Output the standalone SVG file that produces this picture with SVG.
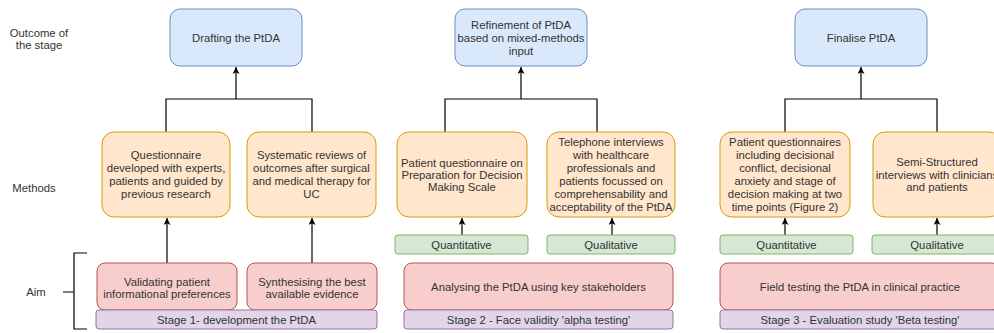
<svg xmlns="http://www.w3.org/2000/svg" width="994" height="333" viewBox="0 0 994 333">
<style>
text{font-family:"Liberation Sans",Arial,sans-serif;font-size:11.3px;fill:#333;text-anchor:middle}
.lbl{fill:#333}
.out{fill:#dae8fc;stroke:#6c8ebf;stroke-width:1}
.met{fill:#ffe6cc;stroke:#d79b00;stroke-width:1}
.grn{fill:#d5e8d4;stroke:#82b366;stroke-width:1}
.red{fill:#f8cecc;stroke:#b85450;stroke-width:1}
.pur{fill:#e1d5e7;stroke:#9673a6;stroke-width:1}
.ln{fill:none;stroke:#000;stroke-width:1.2}
</style>
<defs>
<marker id="ah" viewBox="0 0 10 10" refX="10" refY="5" markerWidth="7" markerHeight="7" markerUnits="userSpaceOnUse" orient="auto">
<path d="M0,0 L10,5 L0,10 L2.5,5 Z" fill="#000"/>
</marker>
</defs>
<g id="labels">
<text x="39" y="37">Outcome of</text>
<text x="39" y="48.5">the stage</text>
<text x="34" y="192">Methods</text>
<text x="36" y="296">Aim</text>
<path class="ln" d="M87,253 H74 V329 H87 M63,292 H74" stroke-width="1.2"/>
</g>
<g id="connectors">
<path class="ln" d="M166,132 V99 H312 V132"/>
<path class="ln" d="M236,99 V67" marker-end="url(#ah)"/>
<path class="ln" d="M167,263 V218" marker-end="url(#ah)"/>
<path class="ln" d="M312,263 V218" marker-end="url(#ah)"/>
<path class="ln" d="M445,132 V99 H597 V132"/>
<path class="ln" d="M521,99 V67" marker-end="url(#ah)"/>
<path class="ln" d="M462,235 V218" marker-end="url(#ah)"/>
<path class="ln" d="M612,235 V218" marker-end="url(#ah)"/>
<path class="ln" d="M785,132 V99 H937 V132"/>
<path class="ln" d="M861,99 V67" marker-end="url(#ah)"/>
<path class="ln" d="M785,235 V218" marker-end="url(#ah)"/>
<path class="ln" d="M937,235 V218" marker-end="url(#ah)"/>
</g>
<g id="out1"><rect class="out" x="170" y="9" width="132" height="57" rx="10"/><text x="236" y="41.5">Drafting the PtDA</text></g>
<g id="out2"><rect class="out" x="455" y="9" width="132" height="57" rx="10"/><text x="521" y="29">Refinement of PtDA</text><text x="521" y="42">based on mixed-methods</text><text x="521" y="55">input</text></g>
<g id="out3"><rect class="out" x="795" y="9" width="132" height="57" rx="10"/><text x="861" y="41.5">Finalise PtDA</text></g>
<g id="met1"><rect class="met" x="102" y="132" width="128" height="85" rx="12"/><text x="166" y="159">Questionnaire</text><text x="166" y="172">developed with experts,</text><text x="166" y="185">patients and guided by</text><text x="166" y="198">previous research</text></g>
<g id="met2"><rect class="met" x="247" y="132" width="129" height="85" rx="12"/><text x="311.5" y="159">Systematic reviews of</text><text x="311.5" y="172">outcomes after surgical</text><text x="311.5" y="185">and medical therapy for</text><text x="311.5" y="198">UC</text></g>
<g id="met3"><rect class="met" x="397" y="132" width="130" height="85" rx="12"/><text x="462" y="166.5">Patient questionnaire on</text><text x="462" y="178.8">Preparation for Decision</text><text x="462" y="191">Making Scale</text></g>
<g id="met4"><rect class="met" x="547" y="132" width="128" height="85" rx="12"/><text x="611" y="146">Telephone interviews</text><text x="611" y="159">with healthcare</text><text x="611" y="172">professionals and</text><text x="611" y="185">patients focussed on</text><text x="611" y="198">comprehensability and</text><text x="611" y="211">acceptability of the PtDA</text></g>
<g id="met5"><rect class="met" x="720" y="132" width="130" height="85" rx="12"/><text x="785" y="146">Patient questionnaires</text><text x="785" y="159">including decisional</text><text x="785" y="172">conflict, decisional</text><text x="785" y="185">anxiety and stage of</text><text x="785" y="198">decision making at two</text><text x="785" y="211">time points (Figure 2)</text></g>
<g id="met6"><rect class="met" x="873" y="132" width="128" height="85" rx="12"/><text x="937" y="166">Semi-Structured</text><text x="937" y="178.5">interviews with clinicians</text><text x="937" y="191">and patients</text></g>
<g id="grn1"><rect class="grn" x="395" y="235" width="133" height="19" rx="3"/><text x="461.5" y="248.5">Quantitative</text></g>
<g id="grn2"><rect class="grn" x="547" y="235" width="128" height="19" rx="3"/><text x="611" y="248.5">Qualitative</text></g>
<g id="grn3"><rect class="grn" x="720" y="235" width="133" height="19" rx="3"/><text x="786.5" y="248.5">Quantitative</text></g>
<g id="grn4"><rect class="grn" x="872" y="235" width="130" height="19" rx="3"/><text x="937" y="248.5">Qualitative</text></g>
<g id="aim1"><rect class="red" x="97" y="263" width="140" height="47" rx="8"/><text x="167" y="285.5">Validating patient</text><text x="167" y="297.5">informational preferences</text></g>
<g id="aim2"><rect class="red" x="247" y="263" width="130" height="47" rx="8"/><text x="312" y="285.5">Synthesising the best</text><text x="312" y="297.5">available evidence</text></g>
<g id="aim3"><rect class="red" x="404" y="263" width="269" height="47" rx="8"/><text x="538.5" y="291">Analysing the PtDA using key stakeholders</text></g>
<g id="aim4"><rect class="red" x="720" y="263" width="280" height="47" rx="8"/><text x="860" y="291">Field testing the PtDA in clinical practice</text></g>
<g id="stage1"><rect class="pur" x="96" y="310" width="281" height="19" rx="3"/><text x="236.5" y="323.5">Stage 1- development the PtDA</text></g>
<g id="stage2"><rect class="pur" x="404" y="310" width="269" height="19" rx="3"/><text x="538.5" y="323.5">Stage 2 - Face validity 'alpha testing'</text></g>
<g id="stage3"><rect class="pur" x="720" y="310" width="280" height="19" rx="3"/><text x="860" y="323.5">Stage 3 - Evaluation study 'Beta testing'</text></g>
</svg>
